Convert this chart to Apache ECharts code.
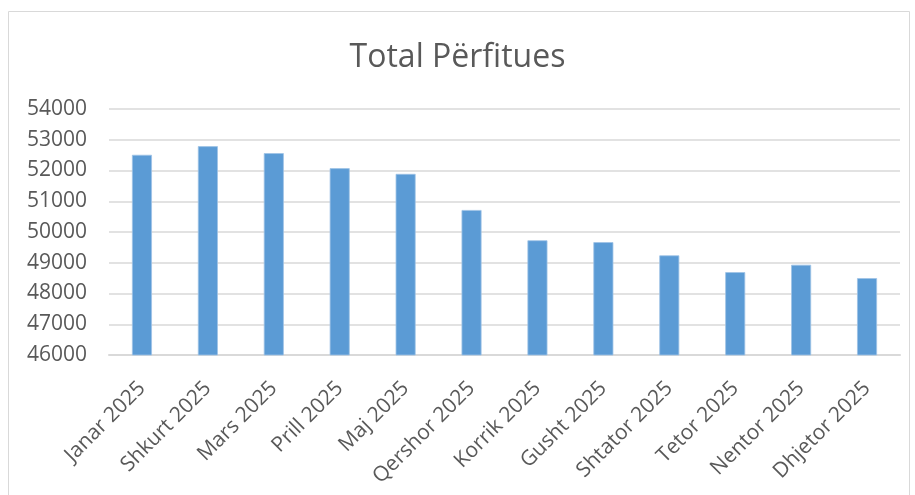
<!DOCTYPE html>
<html>
<head>
<meta charset="UTF-8"/>
<title>Total Përfitues</title>
<script src="https://cdn.jsdelivr.net/npm/echarts@6/dist/echarts.min.js"></script>
<style>
html, body { margin: 0; padding: 0; background: #fff; }
#chart { width: 915px; height: 495px; }
</style>
</head>
<body>
<div id="chart"></div>
<script>
// muajt dhe vlerat
var months = ['Janar 2025', 'Shkurt 2025', 'Mars 2025', 'Prill 2025', 'Maj 2025', 'Qershor 2025',
  'Korrik 2025', 'Gusht 2025', 'Shtator 2025', 'Tetor 2025', 'Nentor 2025', 'Dhjetor 2025'];
var beneficiaries = [52510, 52790, 52565, 52075, 51890, 50715, 49730, 49670, 49240, 48695, 48935, 48500];
var yMin = 46000;
var yMax = 54000;
var yStep = 1000;

var textColor = '#595959';
var font = 'Open Sans';

var myChart = echarts.init(document.getElementById('chart'));
var option = {
  animation: false,
  title: {
    text: 'Total Përfitues',
    left: 'center',
    top: 37,
    textStyle: { fontFamily: font, fontSize: 32, fontWeight: 'normal', color: textColor }
  },
  graphic: [{
    type: 'rect',
    shape: { x: 8.5, y: 11.5, width: 901, height: 500 },
    style: { fill: 'none', stroke: '#d9d9d9', lineWidth: 1 },
    silent: true
  }],
  grid: { left: 109, right: 15, top: 109, bottom: 140 },
  xAxis: {
    type: 'category',
    data: months,
    axisTick: { show: false },
    axisLine: { lineStyle: { color: '#d9d9d9', width: 2 } },
    axisLabel: {
      rotate: 45,
      interval: 0,
      margin: 30,
      fontFamily: font,
      fontSize: 21,
      color: textColor
    }
  },
  yAxis: {
    type: 'value',
    min: yMin,
    max: yMax,
    interval: yStep,
    axisLine: { show: false },
    axisTick: { show: false },
    splitLine: { lineStyle: { color: '#d9d9d9', width: 1.5 } },
    axisLabel: {
      margin: 22,
      fontFamily: font,
      fontSize: 21,
      color: textColor,
      formatter: function (v) { return String(v); }
    }
  },
  series: [{
    type: 'bar',
    data: beneficiaries,
    barWidth: 20,
    itemStyle: { color: '#5b9bd5', borderColor: '#9ec3e6', borderWidth: 0.8 }
  }]
};
myChart.setOption(option);
</script>
</body>
</html>
